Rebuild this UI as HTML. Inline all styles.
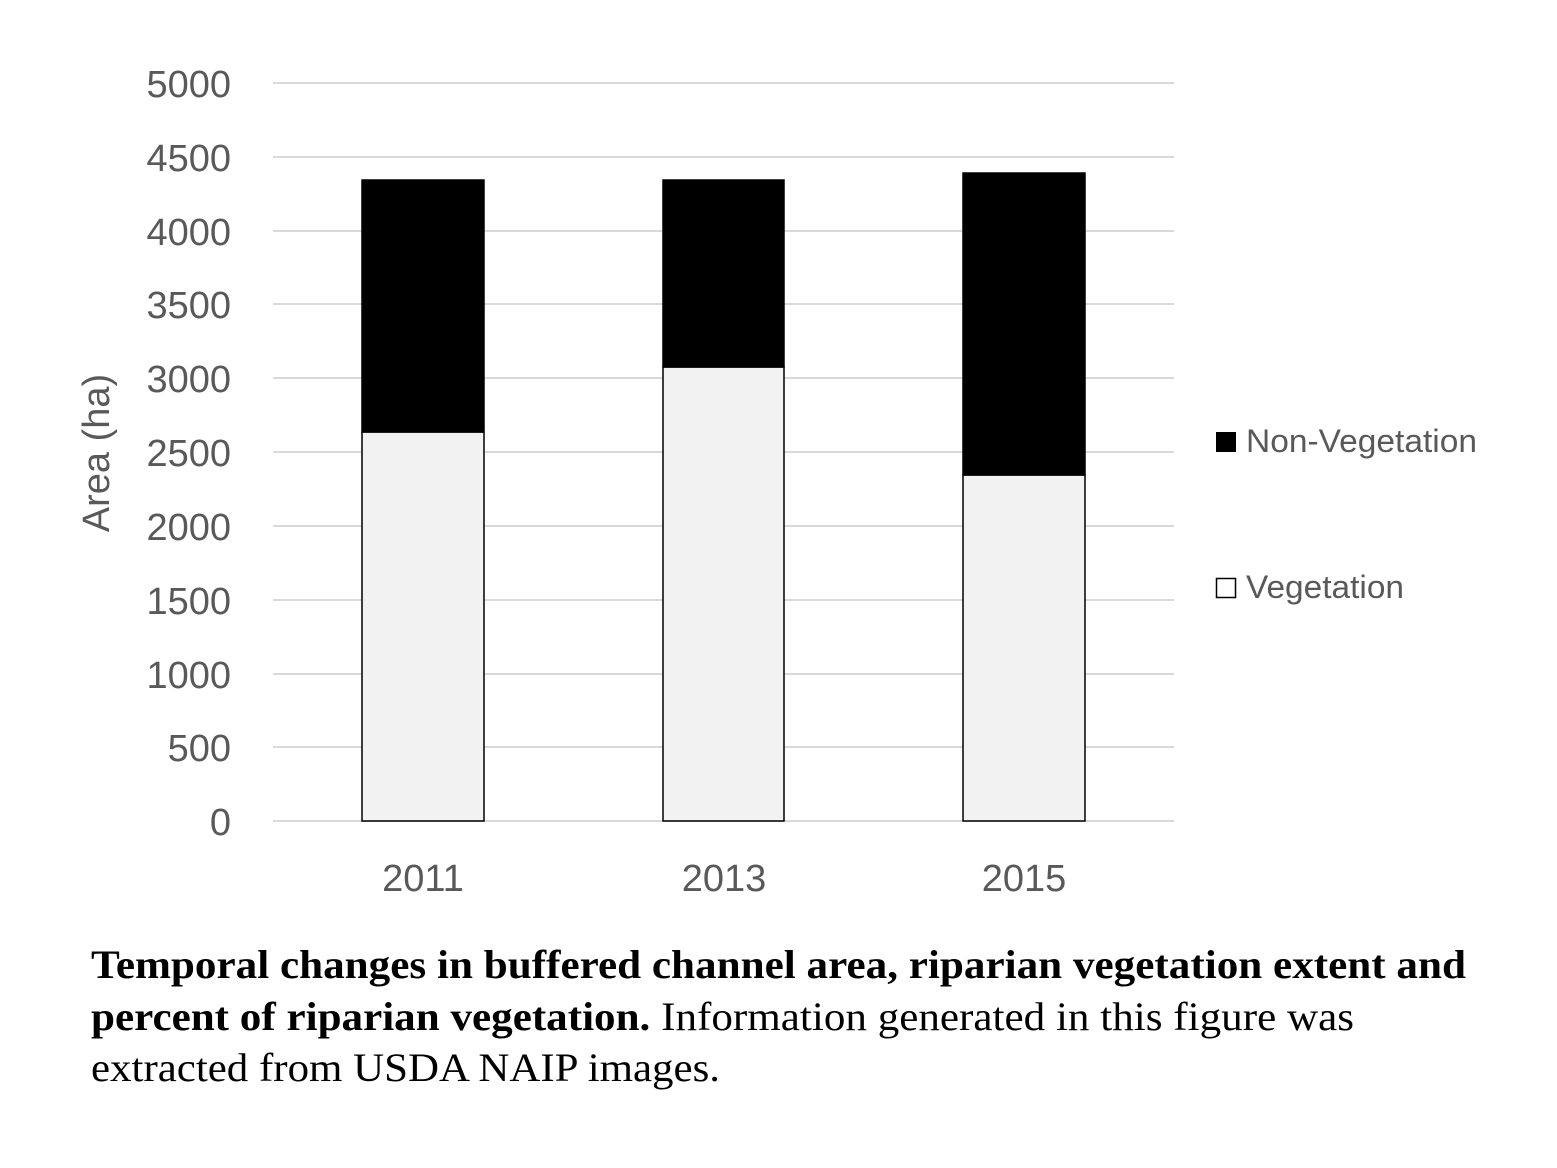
<!DOCTYPE html>
<html><head><style>
html,body{margin:0;padding:0;background:#fff;}
</style></head><body>
<svg width="1557" height="1168" xmlns="http://www.w3.org/2000/svg" style="display:block">
<rect width="1557" height="1168" fill="#fff"/>
<g stroke="#d9d9d9" stroke-width="2">
<line x1="273" x2="1174" y1="83" y2="83"/>
<line x1="273" x2="1174" y1="157" y2="157"/>
<line x1="273" x2="1174" y1="231" y2="231"/>
<line x1="273" x2="1174" y1="304" y2="304"/>
<line x1="273" x2="1174" y1="378" y2="378"/>
<line x1="273" x2="1174" y1="452" y2="452"/>
<line x1="273" x2="1174" y1="526" y2="526"/>
<line x1="273" x2="1174" y1="600" y2="600"/>
<line x1="273" x2="1174" y1="674" y2="674"/>
<line x1="273" x2="1174" y1="747" y2="747"/>
<line x1="273" x2="1174" y1="821" y2="821"/>
</g>
<g font-family="Liberation Sans, sans-serif" font-size="38" fill="#595959" text-anchor="end">
<text x="231" y="97">5000</text>
<text x="231" y="171">4500</text>
<text x="231" y="245">4000</text>
<text x="231" y="318">3500</text>
<text x="231" y="392">3000</text>
<text x="231" y="466">2500</text>
<text x="231" y="540">2000</text>
<text x="231" y="614">1500</text>
<text x="231" y="688">1000</text>
<text x="231" y="761">500</text>
<text x="231" y="835">0</text>
</g>
<text transform="translate(109,453) rotate(-90)" font-family="Liberation Sans, sans-serif" font-size="38" fill="#595959" text-anchor="middle">Area (ha)</text>
<g stroke="#000" stroke-width="1.5">
<rect x="362" y="432" width="122" height="389" fill="#f2f2f2"/>
<rect x="362" y="180" width="122" height="252" fill="#000"/>
<rect x="663" y="367" width="121" height="454" fill="#f2f2f2"/>
<rect x="663" y="180" width="121" height="187" fill="#000"/>
<rect x="963" y="475" width="122" height="346" fill="#f2f2f2"/>
<rect x="963" y="173" width="122" height="302" fill="#000"/>
</g>
<g font-family="Liberation Sans, sans-serif" font-size="38" fill="#595959" text-anchor="middle">
<text x="423" y="891">2011</text>
<text x="724" y="891">2013</text>
<text x="1024" y="891">2015</text>
</g>
<rect x="1216" y="432" width="20" height="20" fill="#000"/>
<rect x="1216.5" y="578.5" width="19" height="19" fill="#fff" stroke="#000" stroke-width="1.5"/>
<g font-family="Liberation Sans, sans-serif" font-size="32" fill="#595959">
<text x="1246" y="452" textLength="231" lengthAdjust="spacingAndGlyphs">Non-Vegetation</text>
<text x="1246" y="598" textLength="158" lengthAdjust="spacingAndGlyphs">Vegetation</text>
</g>
<g font-family="Liberation Serif, serif" font-size="40" fill="#000">
<text x="91" y="978" font-weight="bold" textLength="1375" lengthAdjust="spacingAndGlyphs">Temporal changes in buffered channel area, riparian vegetation extent and</text>
<text x="91" y="1030" textLength="1263" lengthAdjust="spacingAndGlyphs"><tspan font-weight="bold">percent of riparian vegetation.</tspan> Information generated in this figure was</text>
<text x="91" y="1081" textLength="629" lengthAdjust="spacingAndGlyphs">extracted from USDA NAIP images.</text>
</g>
</svg>
</body></html>
